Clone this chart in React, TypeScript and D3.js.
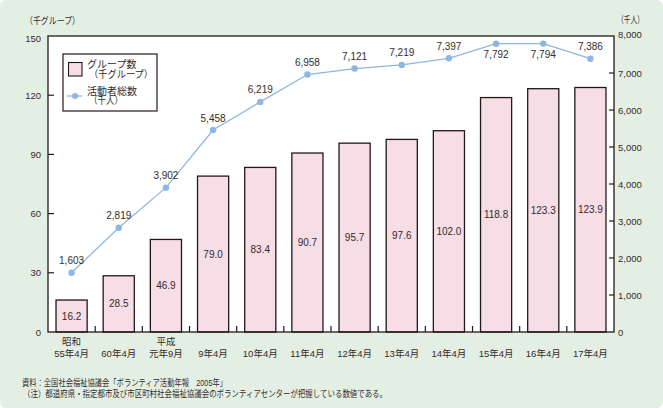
import * as d3 from "d3";

const CATEGORIES = ["S55", "S60", "H1", "H9", "H10", "H11", "H12", "H13", "H14", "H15", "H16", "H17"];
const CATEGORY_LABELS: string[][] = [
  ["昭和", "55年4月"],
  ["60年4月"],
  ["平成", "元年9月"],
  ["9年4月"],
  ["10年4月"],
  ["11年4月"],
  ["12年4月"],
  ["13年4月"],
  ["14年4月"],
  ["15年4月"],
  ["16年4月"],
  ["17年4月"],
];
const GROUPS = [16.2, 28.5, 46.9, 79.0, 83.4, 90.7, 95.7, 97.6, 102.0, 118.8, 123.3, 123.9];
const VOLUNTEERS = [1603, 2819, 3902, 5458, 6219, 6958, 7121, 7219, 7397, 7792, 7794, 7386];
const LABEL_BELOW = ["H15", "H16"];
const LEFT_TICKS = [0, 30, 60, 90, 120, 150];
const RIGHT_TICKS = [0, 1000, 2000, 3000, 4000, 5000, 6000, 7000, 8000];

const W = 663;
const H = 408;
const plot = { left: 48, right: 614, top: 36, bottom: 332 };

const FONT = '"Liberation Sans", Arial, "Noto Sans CJK JP", sans-serif';
const INK = "#352b2b";
const LINE = "#8db7e2";
const BAR_FILL = "#f6dde6";
const BAR_STROKE = "#231815";

export default function App() {
  const x = d3
    .scaleBand<string>()
    .domain(CATEGORIES)
    .range([plot.left, plot.right])
    .paddingInner(0.34)
    .paddingOuter(0.17);
  const yLeft = d3.scaleLinear().domain([0, 150]).range([plot.bottom, plot.top]);
  const yRight = d3.scaleLinear().domain([0, 8000]).range([plot.bottom, plot.top]);
  const step = x.step();
  const cx = (c: string) => (x(c) ?? 0) + x.bandwidth() / 2;

  const line = d3
    .line<number>()
    .x((_, i) => cx(CATEGORIES[i]))
    .y((d) => yRight(d));

  const fmt = d3.format(",");

  return (
    <svg
      width={W}
      height={H}
      style={{ position: "absolute", left: 0, top: 0, fontFamily: FONT }}
    >
      <rect x={0} y={0} width={W} height={H} rx={6} fill="#e4efe3" />
      <rect
        x={plot.left}
        y={plot.top}
        width={plot.right - plot.left}
        height={plot.bottom - plot.top}
        fill="#fff"
      />

      {/* bars */}
      {CATEGORIES.map((c, i) => (
        <g key={c}>
          <rect
            x={x(c)}
            y={yLeft(GROUPS[i])}
            width={x.bandwidth()}
            height={yLeft(0) - yLeft(GROUPS[i])}
            fill={BAR_FILL}
            stroke={BAR_STROKE}
            strokeWidth={1.3}
          />
          <text
            x={cx(c)}
            y={(yLeft(GROUPS[i]) + yLeft(0)) / 2}
            dominantBaseline="central"
            textAnchor="middle"
            fontSize={10}
            fill={INK}
          >
            {GROUPS[i].toFixed(1)}
          </text>
        </g>
      ))}

      {/* frame */}
      <rect
        x={plot.left}
        y={plot.top}
        width={plot.right - plot.left}
        height={plot.bottom - plot.top}
        fill="none"
        stroke={BAR_STROKE}
        strokeWidth={1.3}
      />

      {/* category separators */}
      {CATEGORIES.slice(1).map((c, i) => (
        <line
          key={c}
          x1={plot.left + (i + 1) * step}
          x2={plot.left + (i + 1) * step}
          y1={plot.bottom}
          y2={plot.bottom - 6}
          stroke={BAR_STROKE}
          strokeWidth={1.2}
        />
      ))}

      {/* left axis */}
      {LEFT_TICKS.map((t) => (
        <g key={t}>
          {t > 0 && t < 150 && (
            <line
              x1={plot.left}
              x2={plot.left + 6}
              y1={yLeft(t)}
              y2={yLeft(t)}
              stroke={BAR_STROKE}
              strokeWidth={1.2}
            />
          )}
          <text
            x={41}
            y={yLeft(t) + (t === 150 ? 2 : 0)}
            dominantBaseline="central"
            textAnchor="end"
            fontSize={9.5}
            fill={INK}
          >
            {t}
          </text>
        </g>
      ))}
      <text x={25} y={20} dominantBaseline="central" fontSize={9.5} fill={INK} textLength={55} lengthAdjust="spacingAndGlyphs">
        （千グループ）
      </text>

      {/* right axis */}
      {RIGHT_TICKS.map((t) => (
        <g key={t}>
          {t > 0 && t < 8000 && (
            <line
              x1={plot.right - 5}
              x2={plot.right}
              y1={yRight(t)}
              y2={yRight(t)}
              stroke={BAR_STROKE}
              strokeWidth={1.2}
            />
          )}
          <text
            x={618}
            y={yRight(t) - (t === 8000 ? 2 : 0)}
            dominantBaseline="central"
            fontSize={9.5}
            fill={INK}
          >
            {fmt(t)}
          </text>
        </g>
      ))}
      <text x={617} y={19} dominantBaseline="central" fontSize={9.5} fill={INK} textLength={27} lengthAdjust="spacingAndGlyphs">
        （千人）
      </text>

      {/* x labels */}
      {CATEGORIES.map((c, i) => {
        const lines = CATEGORY_LABELS[i];
        return lines.map((s, j) => (
          <text
            key={c + j}
            x={cx(c)}
            y={353 - (lines.length - 1 - j) * 11.5}
            dominantBaseline="central"
            textAnchor="middle"
            fontSize={9.5}
            fill={INK}
          >
            {s}
          </text>
        ));
      })}

      {/* line series */}
      <path d={line(VOLUNTEERS) ?? ""} fill="none" stroke={LINE} strokeWidth={1.3} />
      {VOLUNTEERS.map((v, i) => {
        const c = CATEGORIES[i];
        const below = LABEL_BELOW.includes(c);
        return (
          <g key={c}>
            <circle cx={cx(c)} cy={yRight(v)} r={3.2} fill={LINE} />
            <text
              x={cx(c)}
              y={yRight(v) + (below ? 11 : -12)}
              dominantBaseline="central"
              textAnchor="middle"
              fontSize={10}
              fill={INK}
            >
              {fmt(v)}
            </text>
          </g>
        );
      })}

      {/* legend */}
      <rect x={63} y={54} width={94} height={57} fill="#fff" stroke={BAR_STROKE} strokeWidth={1.2} />
      <rect x={68.5} y={62.5} width={13.5} height={13.5} fill={BAR_FILL} stroke={BAR_STROKE} strokeWidth={1.1} />
      <text x={87} y={64.5} dominantBaseline="central" fontSize={10} fill={INK}>
        グループ数
      </text>
      <text x={89} y={74} dominantBaseline="central" fontSize={10} fill={INK} textLength={64} lengthAdjust="spacingAndGlyphs">
        （千グループ）
      </text>
      <line x1={67} x2={82} y1={96} y2={96} stroke={LINE} strokeWidth={1.3} />
      <circle cx={75} cy={96} r={3} fill={LINE} />
      <text x={87} y={91} dominantBaseline="central" fontSize={10} fill={INK}>
        活動者総数
      </text>
      <text x={89} y={100.5} dominantBaseline="central" fontSize={10} fill={INK} textLength={34} lengthAdjust="spacingAndGlyphs">
        （千人）
      </text>

      {/* notes */}
      <text x={22} y={383} dominantBaseline="central" fontSize={9} fill={INK} textLength={205} lengthAdjust="spacingAndGlyphs">
        資料：全国社会福祉協議会「ボランティア活動年報　2005年」
      </text>
      <text x={23} y={394} dominantBaseline="central" fontSize={9} fill={INK} textLength={364} lengthAdjust="spacingAndGlyphs">
        （注）都道府県・指定都市及び市区町村社会福祉協議会のボランティアセンターが把握している数値である。
      </text>
    </svg>
  );
}
